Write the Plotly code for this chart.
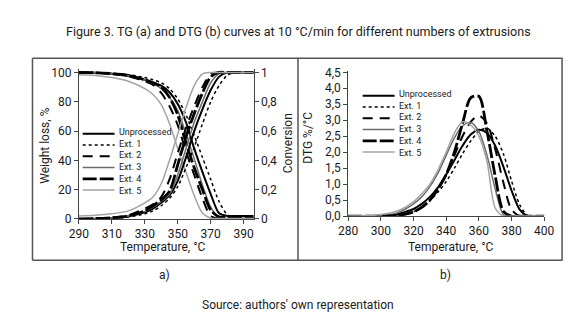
import plotly.graph_objects as go

W, H = 580, 318


def px(x):
    return x / W


def py(y):
    return 1 - y / H


# ---------------- data ----------------
series_names = ["Unprocessed", "Ext. 1", "Ext. 2", "Ext. 3", "Ext. 4", "Ext. 5"]

tg_temp = [290, 300, 310, 320, 330, 335, 340, 345, 350, 355, 360, 365, 370, 375, 380, 385, 390, 396]

tg_unprocessed = [100, 99.8, 99, 97.5, 95, 93, 91, 86.5, 78.5, 66, 48, 32, 17, 4, 2, 2, 2, 2]
tg_ext1 = [100, 100, 99.5, 98.5, 96.5, 95, 93, 89, 82, 71, 57, 42, 27, 12, 3, 0.5, 0.3, 0.3]
tg_ext2 = [100, 99.8, 99, 97.5, 94, 91.5, 86, 77, 64, 46, 30, 14, 2, 0.5, 0.5, 0.5, 0.5, 0.5]
tg_ext3 = [100, 99.8, 99, 97.8, 95, 92.5, 89, 83, 74, 58, 41, 23, 8, 0.5, 0.3, 0.3, 0.3, 0.3]
tg_ext4 = [100, 99.8, 99.2, 98, 95, 93, 90, 83, 71, 52, 35, 20, 6, 1.5, 1.5, 1.5, 1.5, 1.5]
tg_ext5 = [98.5, 98, 96.5, 94, 89, 85, 78, 65, 48, 32, 16, 4, 0.5, 0.3, 0.3, 0.3, 0.3, 0.3]

conv_unprocessed = [0, 0.002, 0.006, 0.018, 0.045, 0.07, 0.11, 0.16, 0.26, 0.42, 0.60, 0.75, 0.88, 0.97, 1.0, 1.0, 1.0, 1.0]
conv_ext1 = [0, 0, 0.004, 0.013, 0.035, 0.055, 0.09, 0.14, 0.22, 0.35, 0.49, 0.65, 0.80, 0.91, 0.98, 1.0, 1.0, 1.0]
conv_ext2 = [0, 0.003, 0.01, 0.025, 0.07, 0.10, 0.15, 0.27, 0.45, 0.62, 0.77, 0.90, 0.99, 1.0, 1.0, 1.0, 1.0, 1.0]
conv_ext3 = [0, 0.002, 0.007, 0.02, 0.05, 0.08, 0.12, 0.17, 0.30, 0.48, 0.66, 0.80, 0.93, 0.99, 1.0, 1.0, 1.0, 1.0]
conv_ext4 = [0, 0.002, 0.008, 0.02, 0.055, 0.09, 0.13, 0.19, 0.37, 0.56, 0.72, 0.86, 0.97, 1.0, 1.0, 1.0, 1.0, 1.0]
conv_ext5 = [0.02, 0.025, 0.035, 0.055, 0.11, 0.15, 0.24, 0.40, 0.58, 0.76, 0.91, 0.99, 1.0, 1.0, 1.0, 1.0, 1.0, 1.0]

dtg_temp = [280, 285, 290, 295, 300, 305, 310, 315, 320, 325, 330, 335, 340,
            345, 350, 355, 360, 365, 370, 375, 380, 385, 390, 395, 400]

dtg_unprocessed = [0, 0, 0, 0, 0, 0.02, 0.06, 0.13, 0.22, 0.38, 0.6, 0.9, 1.3,
                   1.75, 2.2, 2.55, 2.7, 2.6, 2.2, 1.55, 0.8, 0.2, 0, 0, 0]
dtg_ext1 = [0, 0, 0, 0, 0, 0.01, 0.03, 0.07, 0.14, 0.27, 0.48, 0.75, 1.08,
            1.5, 1.95, 2.35, 2.65, 2.75, 2.5, 1.95, 1.1, 0.35, 0, 0, 0]
dtg_ext2 = [0, 0, 0, 0, 0, 0.005, 0.02, 0.06, 0.13, 0.27, 0.5, 0.85, 1.3,
            1.9, 2.5, 2.95, 3.15, 2.9, 2.1, 1.05, 0.2, 0, 0, 0, 0]
dtg_ext3 = [0, 0, 0, 0, 0.01, 0.04, 0.1, 0.22, 0.38, 0.6, 0.92, 1.35, 1.9,
            2.45, 2.82, 2.93, 2.65, 1.9, 0.85, 0.05, 0, 0, 0, 0, 0]
dtg_ext4 = [0, 0, 0, 0, 0, 0.005, 0.02, 0.06, 0.13, 0.27, 0.5, 0.85, 1.3,
            2.0, 2.9, 3.7, 3.75, 2.65, 1.25, 0.15, 0, 0, 0, 0, 0]
dtg_ext5 = [0, 0, 0.01, 0.02, 0.05, 0.09, 0.16, 0.28, 0.45, 0.7, 1.0, 1.45, 2.0,
            2.6, 2.95, 2.85, 2.5, 1.7, 0.25, 0, 0, 0, 0, 0, 0]

tg_xticks = [290, 310, 330, 350, 370, 390]
tg_yticks = [0, 20, 40, 60, 80, 100]
conv_ticks = [0, 0.2, 0.4, 0.6, 0.8, 1]
conv_ticktext = ["0", "0,2", "0,4", "0,6", "0,8", "1"]
dtg_xticks = [280, 300, 320, 340, 360, 380, 400]
dtg_yticks = [0, 0.5, 1, 1.5, 2, 2.5, 3, 3.5, 4, 4.5]
dtg_yticktext = ["0,0", "0,5", "1,0", "1,5", "2,0", "2,5", "3,0", "3,5", "4,0", "4,5"]

tg_data = [tg_unprocessed, tg_ext1, tg_ext2, tg_ext3, tg_ext4, tg_ext5]
conv_data = [conv_unprocessed, conv_ext1, conv_ext2, conv_ext3, conv_ext4, conv_ext5]
dtg_data = [dtg_unprocessed, dtg_ext1, dtg_ext2, dtg_ext3, dtg_ext4, dtg_ext5]

# ---------------- styles ----------------
FONT = "Roboto, Liberation Sans, sans-serif"
TXT = "#1a1a1a"
styles = [
    dict(color="#000000", width=2.0, dash="solid"),
    dict(color="#000000", width=1.5, dash="dot"),
    dict(color="#000000", width=2.0, dash="10px,7px"),
    dict(color="#6b6b6b", width=1.5, dash="solid"),
    dict(color="#000000", width=2.8, dash="14px,3px"),
    dict(color="#a3a3a3", width=1.5, dash="solid"),
]

fig = go.Figure()

for name, tg, cv, dtg, st in zip(series_names, tg_data, conv_data, dtg_data, styles):
    fig.add_trace(go.Scatter(x=tg_temp, y=tg, mode="lines", name=name, line=dict(shape="spline", smoothing=0.8, **st),
                             xaxis="x", yaxis="y", showlegend=False))
    fig.add_trace(go.Scatter(x=tg_temp, y=cv, mode="lines", name=name, line=dict(shape="spline", smoothing=0.8, **st),
                             xaxis="x", yaxis="y2", showlegend=False))
    fig.add_trace(go.Scatter(x=dtg_temp, y=dtg, mode="lines", name=name, line=dict(shape="spline", smoothing=0.8, **st),
                             xaxis="x2", yaxis="y3", showlegend=False))

axis_common = dict(showgrid=False, zeroline=False, showline=True, linecolor="#444", linewidth=1,
                   ticks="outside", ticklen=4, tickcolor="#444",
                   tickfont=dict(family=FONT, size=12, color=TXT))

fig.update_layout(
    width=W, height=H,
    margin=dict(l=0, r=0, t=0, b=0),
    paper_bgcolor="white", plot_bgcolor="white",
    showlegend=False,
    font=dict(family=FONT, color=TXT),
    xaxis=dict(domain=[px(63), px(244)], range=[290, 396], tickvals=tg_xticks, anchor="y", **axis_common),
    yaxis=dict(domain=[py(214), py(58)], range=[0, 102.5], tickvals=tg_yticks, anchor="x", **axis_common),
    yaxis2=dict(overlaying="y", side="right", anchor="x", range=[0, 1.025], tickvals=conv_ticks,
                ticktext=conv_ticktext, **axis_common),
    xaxis2=dict(domain=[px(342), px(545)], range=[280, 400], tickvals=dtg_xticks, anchor="y3", **axis_common),
    yaxis3=dict(domain=[py(211), py(60)], range=[0, 4.55], tickvals=dtg_yticks, ticktext=dtg_yticktext,
                anchor="x2", **axis_common),
)

# frame around the panels
frame = dict(color="#555555", width=1.5)
shapes = [
    dict(type="line", xref="paper", yref="paper", x0=px(15), x1=px(564), y0=py(47), y1=py(47), line=frame),
    dict(type="line", xref="paper", yref="paper", x0=px(15), x1=px(564), y0=py(257), y1=py(257), line=frame),
    dict(type="line", xref="paper", yref="paper", x0=px(15), x1=px(15), y0=py(47), y1=py(257), line=frame),
    dict(type="line", xref="paper", yref="paper", x0=px(290), x1=px(290), y0=py(47), y1=py(257), line=frame),
    dict(type="line", xref="paper", yref="paper", x0=px(563.5), x1=px(563.5), y0=py(47), y1=py(257), line=frame),
]

annotations = []


def text(x, y, s, size=12, angle=0, xanchor="center", yanchor="middle", align="center"):
    annotations.append(dict(x=px(x), y=py(y), xref="paper", yref="paper", text=s, showarrow=False,
                            textangle=angle, xanchor=xanchor, yanchor=yanchor, align=align,
                            font=dict(family=FONT, size=size, color=TXT)))


text(291, 19, "Figure 3. TG (a) and DTG (b) curves at 10 °C/min for different numbers of extrusions", size=12.5)
text(28, 138, "Weight loss, %", size=12, angle=-90)
text(280, 135, "Conversion", size=12, angle=-90)
text(150, 243, "Temperature, °C", size=12)
text(152, 272, "a)", size=12)
text(300, 130, "DTG %/°C", size=12, angle=-90)
text(448, 243, "Temperature, °C", size=12)
text(443, 272, "b)", size=12)
text(290, 303, "Source: authors' own representation", size=12)

# legends (one per panel): line samples plus one multi-line label block
LEG_SIZE = 9
LEG_STEP = LEG_SIZE * 1.3
legend_specs = [(67, 100, 103, 125.5), (357, 390, 393, 86)]
for lx0, lx1, tx, ty0 in legend_specs:
    for i, st in enumerate(styles):
        yy = ty0 + i * LEG_STEP
        shapes.append(dict(type="line", xref="paper", yref="paper", x0=px(lx0), x1=px(lx1),
                           y0=py(yy), y1=py(yy), line=st))
    block_mid = ty0 + 2.5 * LEG_STEP
    text(tx, block_mid, "<br>".join(series_names), size=LEG_SIZE, xanchor="left", align="left")

fig.update_layout(shapes=shapes, annotations=annotations)

fig.write_html("out.html")
